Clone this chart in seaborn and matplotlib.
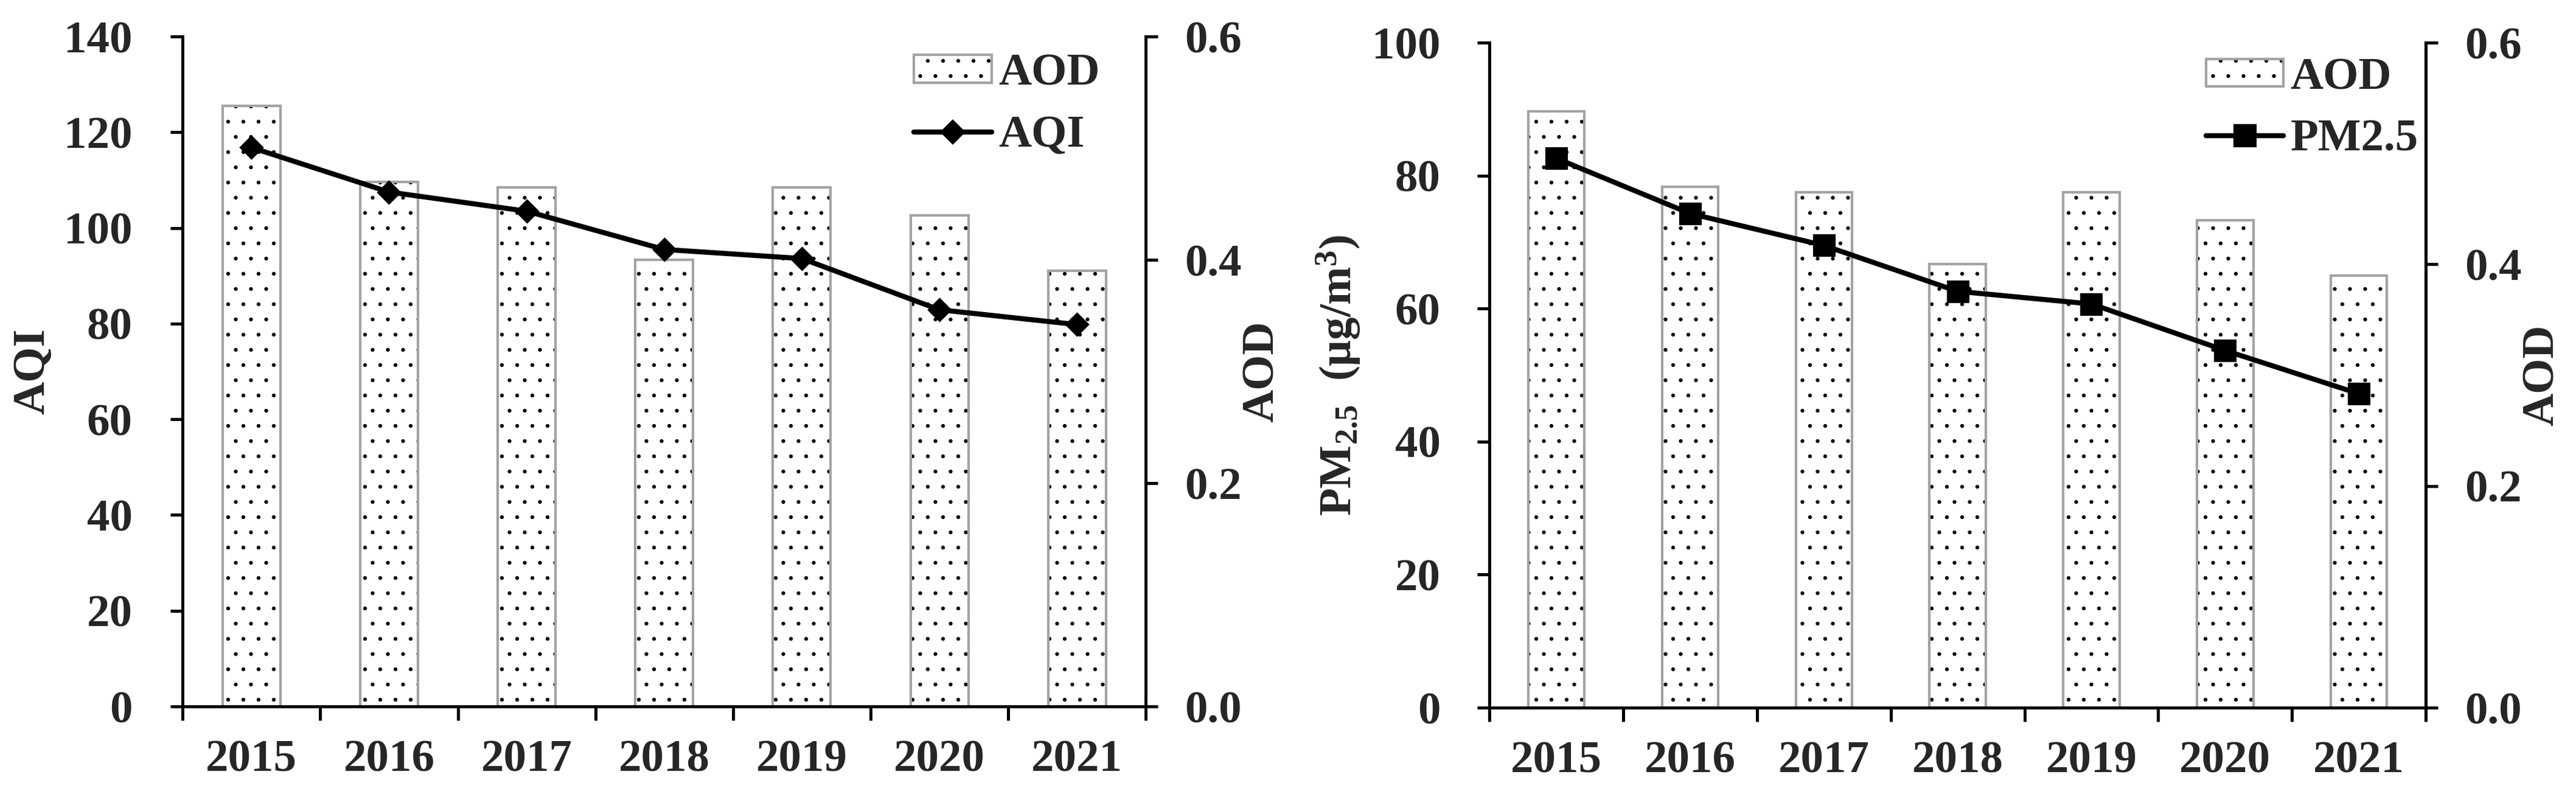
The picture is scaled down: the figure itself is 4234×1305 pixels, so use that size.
import numpy as np
import pandas as pd
import matplotlib
matplotlib.use("Agg")
import matplotlib.pyplot as plt
import seaborn as sns
from matplotlib.patches import Patch
from matplotlib.lines import Line2D

# data
YEARS = ["2015", "2016", "2017", "2018", "2019", "2020", "2021"]
AQI = [116.8, 107.5, 103.5, 95.5, 93.6, 82.9, 79.8]
PM25 = [82.6, 74.3, 69.5, 62.6, 60.7, 53.7, 47.2]
AOD = [0.538, 0.470, 0.465, 0.400, 0.465, 0.440, 0.390]

FS = 18
BAR_EDGE = "#a3a3a3"
SPINE_W = 1.2

sns.set_theme(style="white")
plt.rcParams["font.family"] = ["Liberation Serif", "DejaVu Serif"]
plt.rcParams["font.weight"] = "bold"
plt.rcParams["mathtext.default"] = "regular"
plt.rcParams["hatch.linewidth"] = 0.3


def draw_panel(ax, values, left_label, left_max, marker, ms, line_label,
               leg_anchor, left_pad):
    """draws AOD bars on a twin axis and the pollutant line on the main axis"""
    df = pd.DataFrame({"Year": YEARS, "AOD": AOD, "val": values})

    ax2 = ax.twinx()

    # AOD bars: white, dotted, grey outline
    sns.barplot(data=df, x="Year", y="AOD", ax=ax2, color="white",
                width=0.42, saturation=1)
    for p in ax2.patches:
        p.set_hatch("..")
        p.set_edgecolor(BAR_EDGE)
        p.set_linewidth(1.0)
        p._hatch_color = (0, 0, 0, 1)

    # pollutant line on the left axis, kept above the bars
    sns.lineplot(data=df, x="Year", y="val", ax=ax, color="black",
                 linewidth=2.0, marker=marker, markersize=ms,
                 markeredgecolor="black", sort=False)
    ax.set_zorder(ax2.get_zorder() + 1)
    ax.patch.set_visible(False)

    ax.set_ylim(0, left_max)
    ax.set_yticks(np.arange(0, left_max + 1, 20))
    ax2.set_ylim(0, 0.6)
    ax2.set_yticks([0.0, 0.2, 0.4, 0.6])
    ax2.set_yticklabels(["0.0", "0.2", "0.4", "0.6"])
    ax.set_xlim(-0.5, len(YEARS) - 0.5)

    # ticks between the categories, labels at the centres
    ax.set_xticks(np.arange(len(YEARS)))
    ax.set_xticklabels(YEARS)
    ax.set_xticks(np.arange(len(YEARS) + 1) - 0.5, minor=True)
    ax.tick_params(axis="x", which="major", length=0, pad=13, labelsize=FS)
    ax.tick_params(axis="x", which="minor", length=5.5, width=SPINE_W,
                   direction="out", color="black", bottom=True)
    ax.tick_params(axis="y", length=4.8, width=SPINE_W, direction="out",
                   color="black", labelsize=FS, pad=left_pad, left=True)
    ax2.tick_params(axis="y", length=4.8, width=SPINE_W, direction="out",
                    color="black", labelsize=FS, pad=10.5, right=True)

    for a in (ax, ax2):
        for side in ("left", "bottom", "right"):
            a.spines[side].set_color("black")
            a.spines[side].set_linewidth(SPINE_W)
        a.spines["top"].set_visible(False)
        a.grid(False)
    ax.spines["right"].set_visible(False)
    ax2.spines["left"].set_visible(False)
    ax2.spines["bottom"].set_visible(False)

    ax.set_xlabel("")
    ax.set_ylabel(left_label, fontsize=FS, fontweight="bold", labelpad=4)
    ax2.set_ylabel("AOD", fontsize=FS, fontweight="bold", labelpad=0)

    handles = [
        Patch(facecolor="white", edgecolor=BAR_EDGE, hatch="..", linewidth=1.0),
        Line2D([], [], color="black", linewidth=2.0, marker=marker,
               markersize=ms),
    ]
    leg = ax.legend(handles, ["AOD", line_label], loc="upper right",
                    bbox_to_anchor=leg_anchor, frameon=False,
                    fontsize=FS, handlelength=1.7, handleheight=0.55,
                    handletextpad=0.15, labelspacing=0.45,
                    borderaxespad=0, borderpad=0)
    for t in leg.get_texts():
        t.set_fontweight("bold")
    leg.get_patches()[0]._hatch_color = (0, 0, 0, 1)
    return ax2


fig = plt.figure(figsize=(4234 / 300, 1305 / 300), dpi=300)
ax_l = fig.add_axes([0.0709, 0.1103, 0.3739, 0.8437])
ax_r = fig.add_axes([0.5782, 0.1088, 0.3635, 0.8375])

draw_panel(ax_l, AQI, "AQI", 140, "D", 6, "AQI", (0.952, 0.975), 15)
draw_panel(ax_r, PM25, "PM$_{2.5}$  (μg/m$^{3}$)", 100, "s", 8, "PM2.5",
           (0.992, 0.978), 14.5)

fig.savefig("out.png", dpi=300, facecolor="white")
